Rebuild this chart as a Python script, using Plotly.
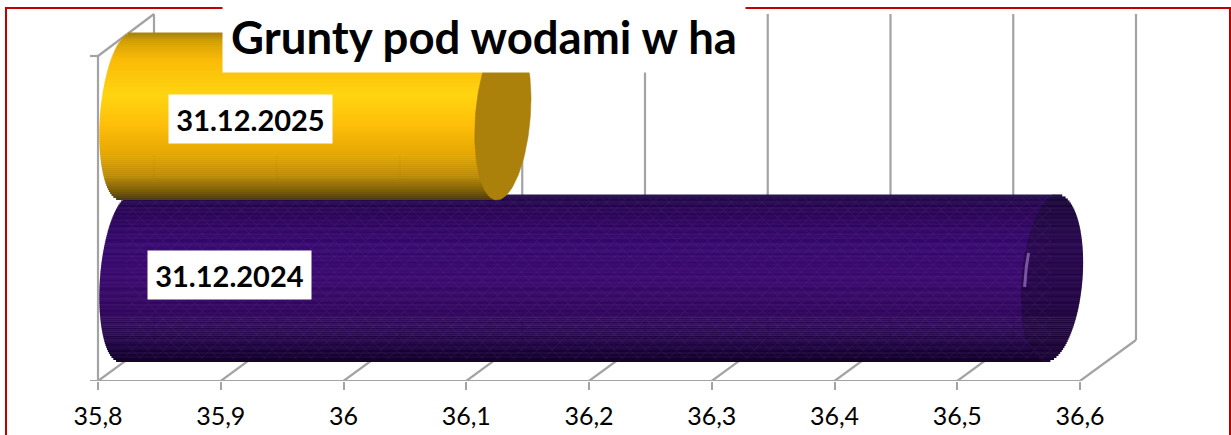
import numpy as np
import plotly.graph_objects as go

# ---- data ----
categories = ["31.12.2024", "31.12.2025"]
values = [36.554, 36.107]
tick_values = [35.8, 35.9, 36.0, 36.1, 36.2, 36.3, 36.4, 36.5, 36.6]
tick_labels = ["35,8", "35,9", "36", "36,1", "36,2", "36,3", "36,4", "36,5", "36,6"]
chart_title = "Grunty pod wodami w ha"

# ---- styles ----
gold_stops = [(0.0, "#a9800c"), (0.05, "#d4a205"), (0.16, "#fbbb08"), (0.37, "#ffd511"),
              (0.55, "#ffbf0a"), (0.72, "#e6a805"), (0.86, "#b98a08"), (0.95, "#7a5c08"), (1.0, "#4a3a10")]
purple_stops = [(0.0, "#24104a"), (0.08, "#2e0a58"), (0.3, "#3a0d72"), (0.5, "#3e0e70"),
                (0.72, "#340b60"), (0.9, "#220844"), (1.0, "#14042a")]
cap_stops = [(0.0, "#1e0c3c"), (0.3, "#2c0c52"), (0.6, "#280a4a"), (1.0, "#1c0636")]
streak = [0, -5, 3, -2, 5, -7, 2, 4, -4, 1, 6, -3, -6, 3, -1, 5, -4, 1, 6, -6, 2, -2, 4, -3]
GREY = "#a3a3a3"
RED = "#c00000"
FONT = "Lato, Carlito, Calibri, sans-serif"

# ---- axis geometry (px of the 1231x435 picture) ----
W, H = 1231, 435
PX0, PX_UNIT = 98.0, 1227.5
FLOOR_PX = 381.0
RY = 162.0  # px per category
Y1_PX = 116.5


def xv(px):
    return 35.8 + (px - PX0) / PX_UNIT


def yv(px):
    return 1 + (Y1_PX - px) / RY


DX = 56 / PX_UNIT
DY = 41 / RY
FLOOR = yv(FLOOR_PX)
BACK_FLOOR = FLOOR + DY
TOP_BACK = yv(14)
TOP_FRONT = yv(56)


def hex_rgb(c):
    return np.array([int(c[i:i + 2], 16) for i in (1, 3, 5)], float)


def grad(stops, t, shade=0):
    pos = [s[0] for s in stops]
    rgb = np.array([hex_rgb(s[1]) for s in stops])
    col = [np.interp(t, pos, rgb[:, k]) + shade for k in range(3)]
    return "rgb(%d,%d,%d)" % tuple(int(np.clip(v, 0, 255)) for v in col)


fig = go.Figure()


def strips(idx, base, end, edges, cols):
    n = len(base)
    fig.add_trace(go.Bar(
        y=[idx] * n, x=end - base, base=base, orientation="h", offset=edges[:-1] / RY,
        width=np.full(n, (edges[1] - edges[0] + 0.6) / RY),
        marker=dict(color=cols, line=dict(width=0)), showlegend=False, hoverinfo="skip"))


def cylinder(idx, val, stops, half_h, rx_left, rx_right, shear, cap_color=None, cap_grad=None, use_streak=False):
    n = int(half_h)
    edges = np.linspace(-half_h, half_h, n + 1)
    mids = (edges[:-1] + edges[1:]) / 2
    t = mids / half_h  # + up
    cx_l = 35.8 + DX / 2
    cx_r = val + DX / 2
    sh = shear / PX_UNIT
    root = np.sqrt(1 - t ** 2)
    base = cx_l + sh * t - (rx_left / PX_UNIT) * root
    shade = [streak[i % len(streak)] if use_streak else 0 for i in range(n)]
    if cap_grad is not None:
        # dark end cap as strips, so the weave runs through it
        outer = cx_r + sh * t + (rx_right / PX_UNIT) * root
        inner = cx_r + sh * t - (rx_right / PX_UNIT) * root
        strips(idx, inner, outer, edges,
               [grad(cap_grad, 0.5 - tt / 2, s) for tt, s in zip(t, shade)])
        strips(idx, base, inner + 1 / PX_UNIT, edges,
               [grad(stops, 0.5 - tt / 2, s) for tt, s in zip(t, shade)])
        # woven texture across the straight part
        fig.add_trace(go.Bar(
            y=[idx], x=[cx_r - cx_l], base=[cx_l], orientation="h",
            width=[2 * half_h * 0.97 / RY],
            marker=dict(color="rgba(0,0,0,0)", line=dict(width=0),
                        pattern=dict(shape="x", size=11, solidity=0.08, fgcolor="#8a3db8",
                                     fgopacity=0.28, bgcolor="rgba(0,0,0,0)")),
            showlegend=False, hoverinfo="skip"))
    else:
        strips(idx, base, cx_r + sh * t, edges,
               [grad(stops, 0.5 - tt / 2, s) for tt, s in zip(t, shade)])
        th = np.linspace(0, 2 * np.pi, 121)
        fig.add_trace(go.Scatter(
            x=cx_r + (rx_right / PX_UNIT) * np.cos(th) + sh * np.sin(th),
            y=idx + half_h / RY * np.sin(th),
            mode="lines", fill="toself", fillcolor=cap_color, line=dict(color=cap_color, width=0.5),
            showlegend=False, hoverinfo="skip"))


cylinder(0, values[0], purple_stops, 83.5, 26, 31, 6, cap_grad=cap_stops, use_streak=True)
# highlight on the purple cylinder
hl = np.linspace(-1, 1, 21)
fig.add_trace(go.Scatter(
    x=xv(1026) + (1 - np.sqrt(1 - (hl * 0.6) ** 2)) * 3 / PX_UNIT + hl * 2 / PX_UNIT,
    y=yv(270) + hl * 17 / RY, mode="lines", line=dict(color="rgba(150,110,195,0.75)", width=3),
    showlegend=False, hoverinfo="skip"))
cylinder(1, values[1], gold_stops, 83.5, 26, 27.5, 6, cap_color="#ab800b")

# ---- walls, gridlines and floor ----
shapes = []


def line(x0, y0, x1, y1):
    shapes.append(dict(type="line", xref="x", yref="y", x0=x0, y0=y0, x1=x1, y1=y1,
                       layer="below", line=dict(color=GREY, width=2.2)))


for v in tick_values:
    line(v, FLOOR, v + DX, BACK_FLOOR)
    line(v + DX, BACK_FLOOR, v + DX, TOP_BACK)
line(xv(90), FLOOR, tick_values[-1], FLOOR)
line(tick_values[0], FLOOR, tick_values[0], TOP_FRONT)
line(xv(90), TOP_FRONT, tick_values[0], TOP_FRONT)
line(tick_values[0], TOP_FRONT, tick_values[0] + DX, TOP_BACK)

# red frame
shapes.append(dict(type="rect", xref="paper", yref="paper",
                   x0=6 / W, x1=1230 / W, y0=-0.3, y1=1 - 8 / FLOOR_PX,
                   line=dict(color=RED, width=2), layer="below"))

annotations = [
    dict(text="<b>%s</b>" % chart_title, xref="paper", yref="paper", x=222 / W, y=1, xanchor="left", yanchor="top",
         showarrow=False, width=520, height=69, bgcolor="white", align="center", valign="middle",
         font=dict(family=FONT, size=45.5, color="black")),
    dict(text="<b>%s</b>" % categories[1], x=xv(250.5), y=yv(119), xref="x", yref="y", showarrow=False,
         width=161, height=46, bgcolor="white", align="center", valign="middle",
         font=dict(family=FONT, size=29, color="black")),
    dict(text="<b>%s</b>" % categories[0], x=xv(229.5), y=yv(275), xref="x", yref="y", showarrow=False,
         width=161, height=46, bgcolor="white", align="center", valign="middle",
         font=dict(family=FONT, size=29, color="black")),
]

fig.update_layout(
    width=W, height=H, margin=dict(l=0, r=0, t=0, b=H - FLOOR_PX, pad=0),
    barmode="overlay", paper_bgcolor="white", plot_bgcolor="white",
    showlegend=False, shapes=shapes, annotations=annotations,
    xaxis=dict(range=[xv(0), xv(W)], tickmode="array", tickvals=tick_values, ticktext=tick_labels,
               showgrid=False, zeroline=False, showline=False, ticks="outside", ticklen=8, tickwidth=2,
               tickcolor=GREY, ticklabelstandoff=5, tickfont=dict(family=FONT, size=25, color="black")),
    yaxis=dict(range=[FLOOR, yv(0)], showgrid=False, zeroline=False, showline=False, showticklabels=False, ticks=""),
)

fig.write_html("out.html", config=dict(displayModeBar=False), post_script="document.body.style.margin='0';")
